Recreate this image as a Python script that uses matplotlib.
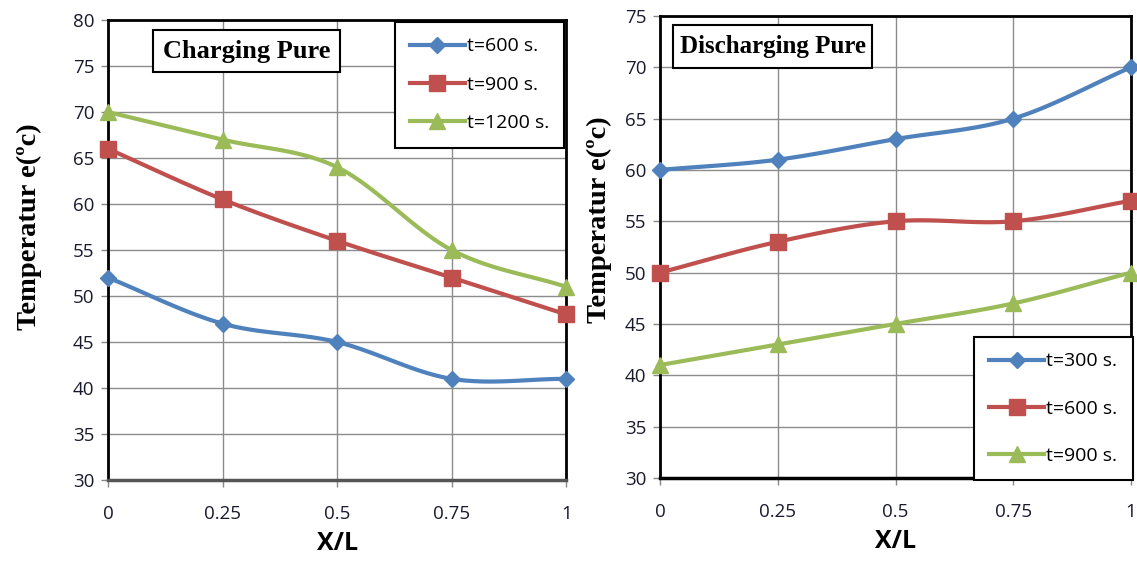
import numpy as np
import matplotlib.pyplot as plt

# data
x_pos = [0, 0.25, 0.5, 0.75, 1]
x_labels = ['0', '0.25', '0.5', '0.75', '1']

charge_labels = ['t=600 s.', 't=900 s.', 't=1200 s.']
charge_600 = [52, 47, 45, 41, 41]
charge_900 = [66, 60.5, 56, 52, 48]
charge_1200 = [70, 67, 64, 55, 51]

discharge_labels = ['t=300 s.', 't=600 s.', 't=900 s.']
discharge_300 = [60, 61, 63, 65, 70]
discharge_600 = [50, 53, 55, 55, 57]
discharge_900 = [41, 43, 45, 47, 50]

colors = ['#4F81BD', '#C0504D', '#9BBB59']
markers = ['D', 's', '^']
msizes = [8, 11, 11]

tick_font = ['Open Sans', 'DejaVu Sans']
serif_font = ['Liberation Serif', 'DejaVu Serif']


def smooth(xs, ys, n=30):
    # Catmull-Rom curve through the points, like Excel's smoothed line
    xs = np.asarray(xs, float)
    ys = np.asarray(ys, float)
    px = np.concatenate([[2 * xs[0] - xs[1]], xs, [2 * xs[-1] - xs[-2]]])
    py = np.concatenate([[2 * ys[0] - ys[1]], ys, [2 * ys[-1] - ys[-2]]])
    outx, outy = [], []
    t = np.linspace(0, 1, n)
    for i in range(1, len(px) - 2):
        for arr, out in ((px, outx), (py, outy)):
            p0, p1, p2, p3 = arr[i - 1], arr[i], arr[i + 1], arr[i + 2]
            out.extend(0.5 * (2 * p1 + (-p0 + p2) * t
                              + (2 * p0 - 5 * p1 + 4 * p2 - p3) * t ** 2
                              + (-p0 + 3 * p1 - 3 * p2 + p3) * t ** 3))
    return outx, outy


def panel(ax, series, labels, ylim, title, title_size, title_box, legend_loc,
          legend_anchor, legend_spacing, bottom_col, ylabel_xy):
    handles = []
    for ys, c, m, ms, lab in zip(series, colors, markers, msizes, labels):
        sx, sy = smooth(x_pos, ys)
        ax.plot(sx, sy, color=c, lw=3.0, zorder=3, clip_on=False)
        ax.plot(x_pos, ys, ls='none', marker=m, ms=ms, color=c, zorder=4, clip_on=False)
        h, = ax.plot([], [], color=c, lw=3.0, marker=m, ms=ms, label=lab)
        handles.append(h)
    ax.set_xlim(0, 1)
    ax.set_ylim(*ylim)
    ax.set_xticks(x_pos)
    ax.set_xticklabels(x_labels)
    ax.set_yticks(np.arange(ylim[0], ylim[1] + 1, 5))
    ax.grid(True, color='#8c8c8c', lw=1.0)
    ax.set_axisbelow(True)
    for s in ax.spines.values():
        s.set_linewidth(2)
        s.set_color('black')
    ax.spines['bottom'].set_color(bottom_col)
    ax.spines['bottom'].set_linewidth(2.5)
    ax.tick_params(axis='both', length=5, width=1, color='#888888', labelsize=13.5,
                   labelcolor='#1a1a2e', pad=5)
    ax.tick_params(axis='x', pad=13)
    for lab in ax.get_xticklabels() + ax.get_yticklabels():
        lab.set_family(tick_font)
    ax.set_xlabel('X/L', fontsize=18, fontweight='bold', family=tick_font, labelpad=6)
    ax.set_ylabel('Temperatur e(ºc)', fontsize=20.5, fontweight='bold', family=serif_font)
    ax.yaxis.set_label_coords(*ylabel_xy)
    x0, y0, x1, y1 = title_box
    ax.add_patch(plt.Rectangle((x0, y0), x1 - x0, y1 - y0, transform=ax.transAxes,
                               facecolor='white', edgecolor='black', lw=1.5, zorder=5))
    ax.text((x0 + x1) / 2, (y0 + y1) / 2, title, transform=ax.transAxes, ha='center',
            va='center', fontsize=title_size, fontweight='bold', family=serif_font, zorder=6)
    leg = ax.legend(handles=handles, loc=legend_loc, bbox_to_anchor=legend_anchor,
                    borderaxespad=0, fancybox=False, framealpha=1, edgecolor='black',
                    labelspacing=legend_spacing, handlelength=2.8, handletextpad=0.1,
                    borderpad=0.8, prop={'family': tick_font, 'size': 14})
    leg.get_frame().set_linewidth(1.5)
    leg.set_zorder(7)


fig = plt.figure(figsize=(11.37, 5.67), dpi=100)
ax1 = fig.add_axes([0.095, 0.1534, 0.403, 0.8113])
ax2 = fig.add_axes([0.5805, 0.157, 0.4143, 0.815])

panel(ax1, [charge_600, charge_900, charge_1200], charge_labels, (30, 80),
      'Charging Pure', 19, (0.098, 0.887, 0.507, 0.978), 'upper right', (0.996, 0.996),
      1.05, '#555555', (-0.143, 0.55))
panel(ax2, [discharge_300, discharge_600, discharge_900], discharge_labels, (30, 75),
      'Discharging Pure', 18, (0.028, 0.887, 0.45, 0.98), 'lower right', (1.003, -0.005),
      1.5, 'black', (-0.103, 0.56))

fig.savefig('out.png', dpi=100)
